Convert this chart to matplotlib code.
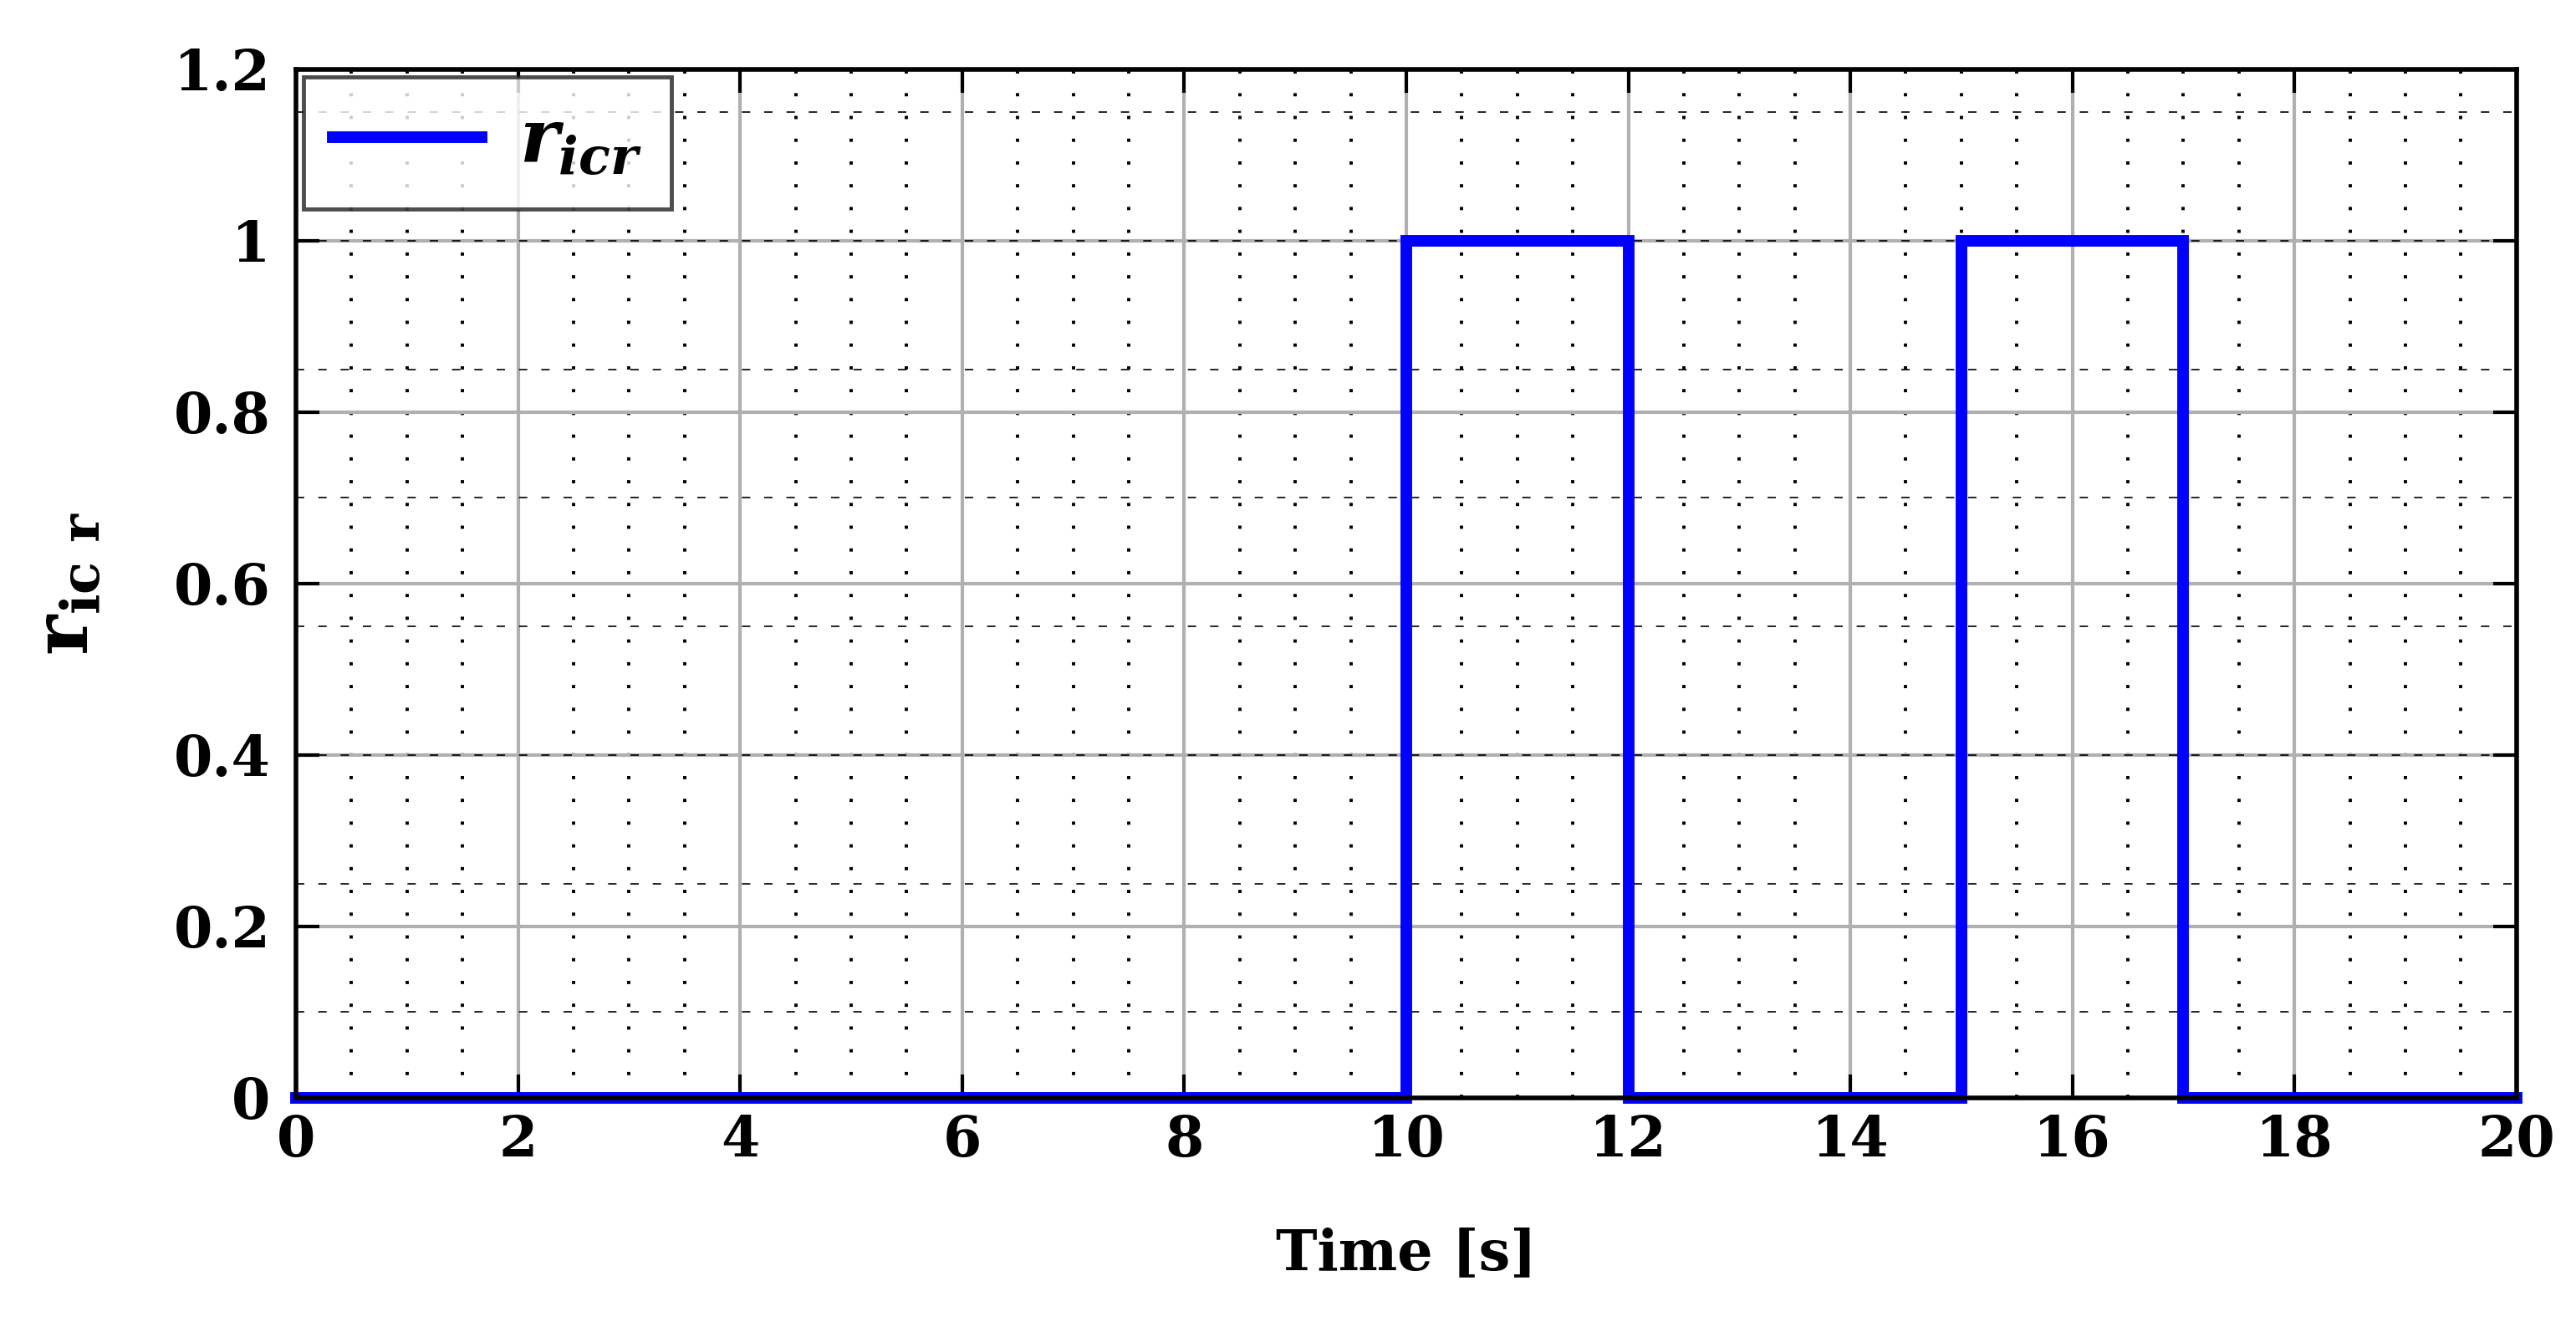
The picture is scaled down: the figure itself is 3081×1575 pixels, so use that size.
import matplotlib

matplotlib.use("Agg")
import matplotlib.pyplot as plt
from matplotlib.ticker import MultipleLocator

# signal r_icr vs time (step switching)
time_s = [0, 10, 10, 12, 12, 15, 15, 17, 17, 20]
r_icr = [0, 0, 1, 1, 0, 0, 1, 1, 0, 0]

x_ticks = [0, 2, 4, 6, 8, 10, 12, 14, 16, 18, 20]
y_ticks = [0, 0.2, 0.4, 0.6, 0.8, 1.0, 1.2]
y_tick_labels = ["0", "0.2", "0.4", "0.6", "0.8", "1", "1.2"]
dash_levels = [0.1, 0.25, 0.4, 0.55, 0.7, 0.85, 1.0, 1.15]

SERIF = "DejaVu Serif"
plt.rcParams["font.family"] = [SERIF]
plt.rcParams["font.weight"] = "bold"
plt.rcParams["mathtext.fontset"] = "custom"
plt.rcParams["mathtext.rm"] = f"{SERIF}:bold"
plt.rcParams["mathtext.it"] = f"{SERIF}:italic:bold"

fig = plt.figure(figsize=(30.81, 15.75), dpi=100)
ax = fig.add_axes([0.1149, 0.1664, 0.8620, 0.7810])

# grids
ax.xaxis.set_minor_locator(MultipleLocator(0.5))
ax.grid(which="major", color="#b0b0b0", linewidth=3.0, linestyle="-")
ax.grid(which="minor", axis="x", color="black", linewidth=2.8,
        linestyle=(0, (1, 6)))
for y in dash_levels:
    ax.axhline(y, color="black", linewidth=1.2, linestyle=(0, (6, 10)), zorder=1)
ax.set_axisbelow(True)

ax.plot(time_s, r_icr, color="#0000ff", linewidth=10, label="$r_{icr}$",
        clip_on=False, zorder=5, solid_joinstyle="miter")

ax.set_xlim(0, 20)
ax.set_ylim(0, 1.2)
ax.set_xticks(x_ticks)
ax.set_yticks(y_ticks)
ax.set_yticklabels(y_tick_labels)

ax.tick_params(which="major", direction="in", length=20, width=3,
               labelsize=48, top=True, right=True)
ax.tick_params(axis="x", pad=14)
ax.tick_params(axis="y", pad=22)
ax.tick_params(which="minor", length=0)
for s in ax.spines.values():
    s.set_linewidth(4)
    s.set_zorder(6)

ax.set_xlabel("Time [s]", fontsize=48, fontweight="bold", labelpad=50)
ax.set_ylabel(r"$\mathrm{r}_{\mathrm{ic\ r}}$", fontsize=66, labelpad=60)

leg = ax.legend(loc="upper left", fontsize=64, frameon=True, fancybox=False,
                borderaxespad=0.1, handlelength=2.0, handletextpad=0.5,
                borderpad=0.4)
leg.get_frame().set_edgecolor("#202020")
leg.get_frame().set_linewidth(3.5)
leg.set_zorder(10)

fig.savefig("out.png", dpi=100)
